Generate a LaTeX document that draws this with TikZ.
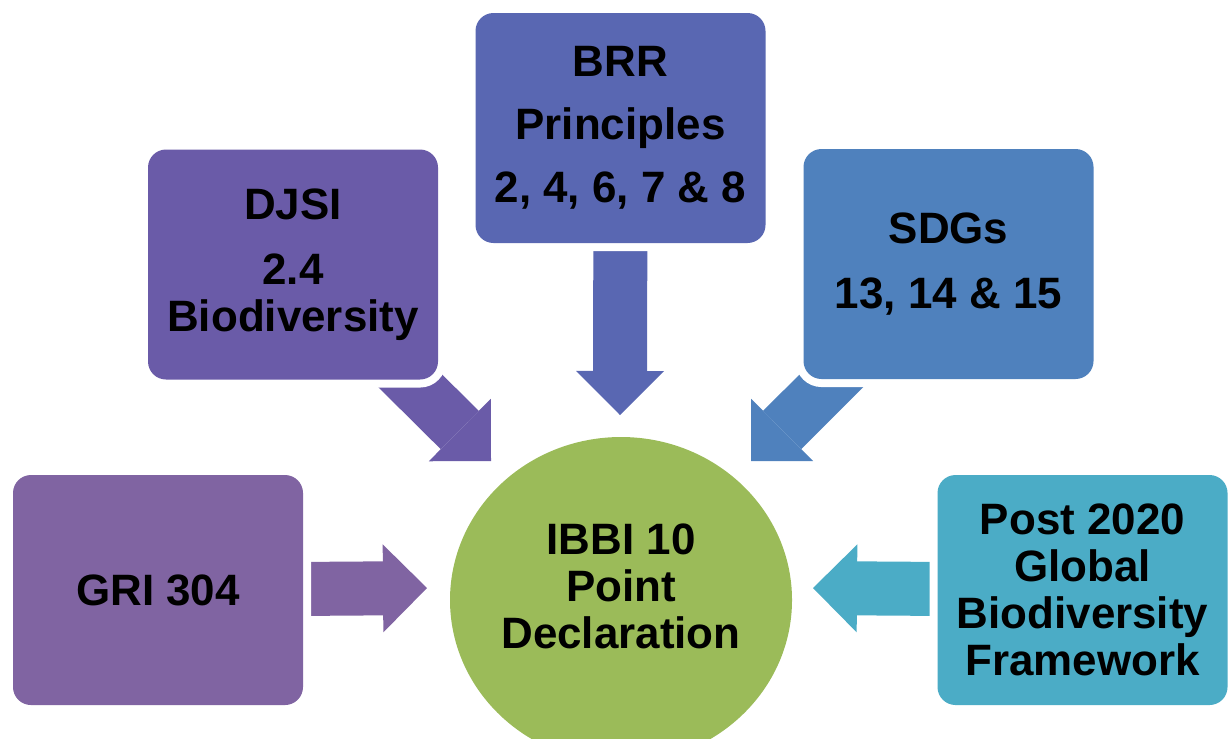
\documentclass[tikz,border=0pt]{standalone}
\usepackage{fontspec}
\setmainfont{Liberation Sans}
\usetikzlibrary{arrows.meta,shapes.geometric,backgrounds}

\definecolor{griPurple}{HTML}{8064A2}
\definecolor{djsiPurple}{HTML}{6A5BA8}
\definecolor{brrBlue}{HTML}{5967B2}
\definecolor{sdgBlue}{HTML}{4F81BD}
\definecolor{gbfAqua}{HTML}{4BACC6}
\definecolor{ibbiGreen}{HTML}{9BBB59}

\begin{document}
\begin{tikzpicture}[
	box/.style={rectangle, rounded corners=0.18cm, minimum width=2.9cm, minimum height=2.3cm,
		inner sep=0pt, align=center, preaction={draw=white, line width=0.16cm}},
	flow/.style={line width=0.54cm, shorten <=-0.4cm,
		-{Triangle[length=4.4mm, width=8.8mm, line width=0pt]}},
	font=\bfseries\fontsize{12.5}{13.4}\selectfont]
	\useasboundingbox (0,0) rectangle (12.28,-7.38);
	\clip (0,0) rectangle (12.28,-7.38);
	% boxes
	\node[box, fill=griPurple] (GRI) at (1.58,-5.90) {GRI 304};
	\node[box, fill=djsiPurple] (DJSI) at (2.93,-2.645) {DJSI\\[5pt]2.4\\Biodiversity};
	\node[box, fill=brrBlue] (BRR) at (6.205,-1.28) {BRR\\[4.5pt]Principles\\[4.5pt]2, 4, 6, 7 \& 8};
	\node[box, fill=sdgBlue] (SDG) at (9.485,-2.64) {SDGs\\[5pt]13, 14 \& 15};
	\node[box, fill=gbfAqua] (GBF) at (10.825,-5.90) {Post 2020\\Global\\Biodiversity\\Framework};
	% centre
	\node[ellipse, fill=ibbiGreen, minimum width=3.42cm, minimum height=3.26cm] (IBBI) at (6.21,-6.00) {};
	\node[align=center] (IBBItext) at (6.21,-5.86) {IBBI 10\\Point\\Declaration};
	% arrow tips
	\coordinate (tGRI) at (4.27,-5.88);
	\coordinate (tDJSI) at (4.91,-4.61);
	\coordinate (tBRR) at (6.20,-4.15);
	\coordinate (tSDG) at (7.51,-4.61);
	\coordinate (tGBF) at (8.13,-5.88);
	\begin{scope}[on background layer]
		\draw[flow, griPurple] (GRI) -- (tGRI);
		\draw[flow, djsiPurple] (DJSI) -- (tDJSI);
		\draw[flow, brrBlue] (BRR) -- (tBRR);
		\draw[flow, sdgBlue] (SDG) -- (tSDG);
		\draw[flow, gbfAqua] (GBF) -- (tGBF);
	\end{scope}
\end{tikzpicture}
\end{document}
